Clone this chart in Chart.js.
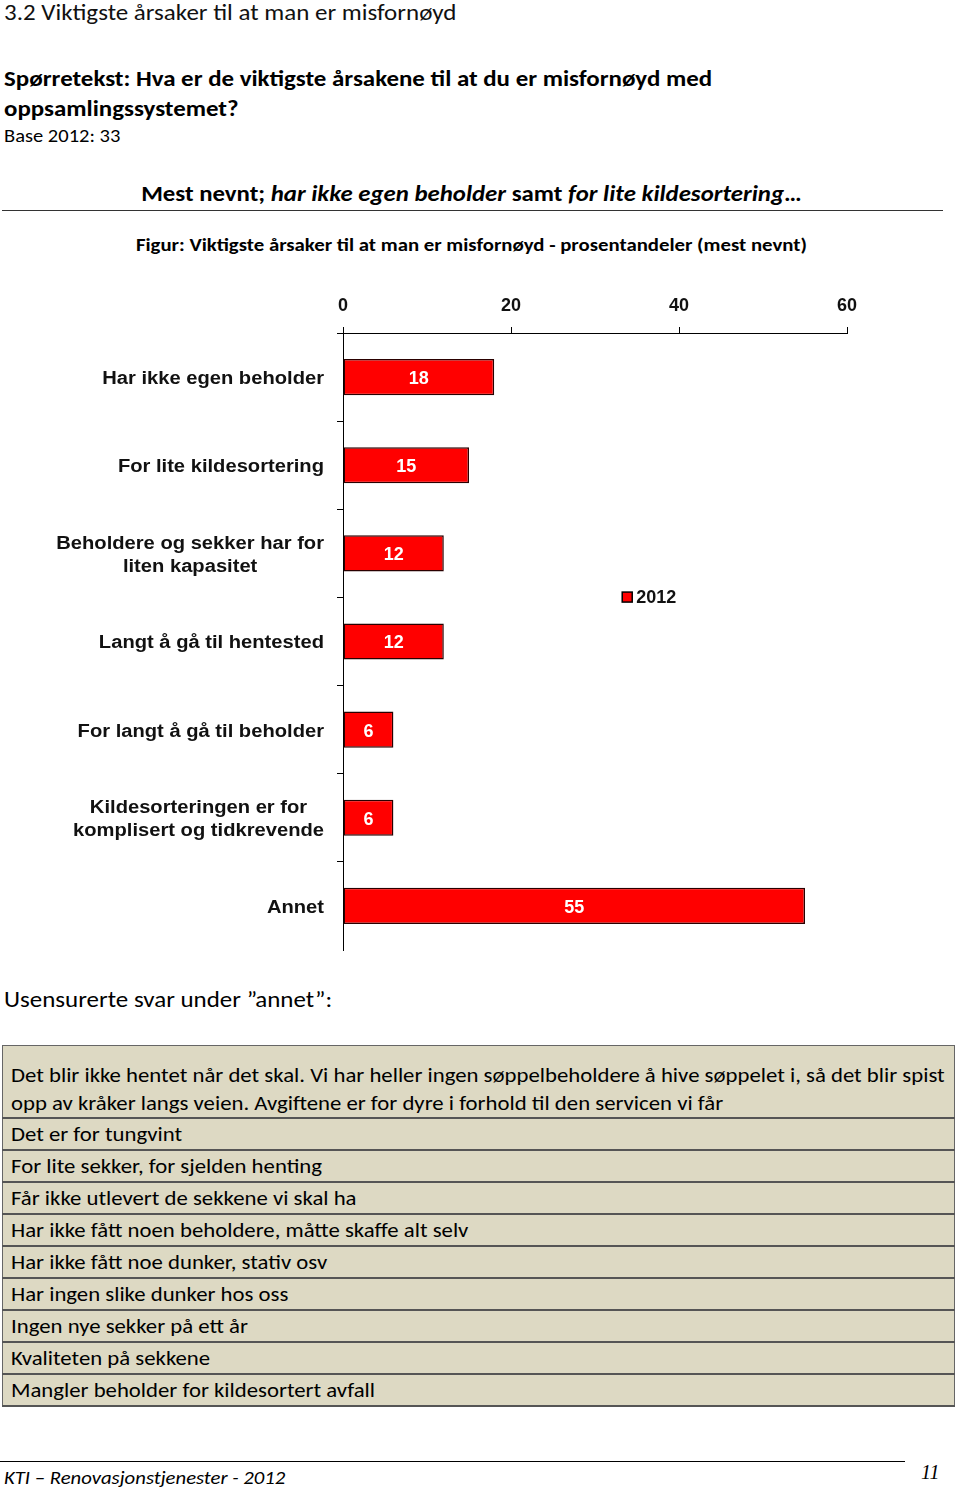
<!DOCTYPE html>
<html>
<head>
<meta charset="utf-8">
<script src="https://cdn.jsdelivr.net/npm/chart.js@4/dist/chart.umd.min.js"></script>
<style>
  body { margin: 0; background: #fff; font-family: Carlito, Lato, sans-serif; color: #000; }
  .page { position: relative; width: 960px; height: 1490px; overflow: hidden; }
  .abs { position: absolute; white-space: nowrap; transform-origin: left center; }
  #h1 { left: 4px; top: -1px; font-size: 22px; font-weight: 300; color: #111; transform: scaleX(1.136); }
  #q { left: 4px; top: 64px; font-size: 22px; font-weight: 700; line-height: 30px; transform: scaleX(1.133); }
  #base { left: 4px; top: 125px; font-size: 18px; transform: scaleX(1.14); }
  #sub { left: 0; width: 943px; top: 180px; text-align: center; font-size: 22px; font-weight: 700;
         transform: scaleX(1.128); transform-origin: 472px center; }
  #rule { left: 2px; top: 210px; width: 941px; height: 0; border-top: 1.5px solid #333; }
  #fig { left: 0; width: 943px; top: 234px; text-align: center; font-size: 18px; font-weight: 700;
         transform: scaleX(1.155); transform-origin: 472px center; }
  #chartBox { position: absolute; left: 0; top: 280px; width: 900px; height: 680px; }
  #usens { left: 4px; top: 986px; font-size: 22px; transform: scaleX(1.135); }
  table { position: absolute; left: 2px; top: 1045px; width: 953px; border-collapse: collapse;
          background: #ddd9c3; font-size: 20.5px; }
  td { border-left: 1.5px solid #666; border-right: 1.5px solid #666; border-bottom: 2px solid #555;
       padding: 0 0 0 8px; height: 30px; line-height: 28px; white-space: nowrap; }
  td span { display: inline-block; transform: scaleX(1.11); transform-origin: left center; }
  tr:first-child td { border-top: 1.5px solid #666; padding-top: 15px; height: 54px; vertical-align: bottom; }
  #footRule { left: 0; top: 1461px; width: 905px; border-top: 1.5px solid #000; }
  #foot { left: 4px; top: 1466px; font-size: 19px; font-style: italic; transform: scaleX(1.09); }
  #pnum { left: 921px; top: 1461px; font-size: 20px; font-style: italic; font-family: "Liberation Serif", serif; }
</style>
</head>
<body>
<div class="page">
  <div class="abs" id="h1">3.2 Viktigste årsaker til at man er misfornøyd</div>
  <div class="abs" id="q">Spørretekst: Hva er de viktigste årsakene til at du er misfornøyd med<br>oppsamlingssystemet?</div>
  <div class="abs" id="base">Base 2012: 33</div>
  <div class="abs" id="sub">Mest nevnt; <i>har ikke egen beholder</i> samt <i>for lite kildesortering</i>…</div>
  <div class="abs" id="rule"></div>
  <div class="abs" id="fig">Figur: Viktigste årsaker til at man er misfornøyd - prosentandeler (mest nevnt)</div>
  <div id="chartBox"><canvas id="chart"></canvas></div>
  <div class="abs" id="usens">Usensurerte svar under ”annet”:</div>
  <table>
    <tr><td><span>Det blir ikke hentet når det skal. Vi har heller ingen søppelbeholdere å hive søppelet i, så det blir spist<br>opp av kråker langs veien. Avgiftene er for dyre i forhold til den servicen vi får</span></td></tr>
    <tr><td><span>Det er for tungvint</span></td></tr>
    <tr><td><span>For lite sekker, for sjelden henting</span></td></tr>
    <tr><td><span>Får ikke utlevert de sekkene vi skal ha</span></td></tr>
    <tr><td><span>Har ikke fått noen beholdere, måtte skaffe alt selv</span></td></tr>
    <tr><td><span>Har ikke fått noe dunker, stativ osv</span></td></tr>
    <tr><td><span>Har ingen slike dunker hos oss</span></td></tr>
    <tr><td><span>Ingen nye sekker på ett år</span></td></tr>
    <tr><td><span>Kvaliteten på sekkene</span></td></tr>
    <tr><td><span>Mangler beholder for kildesortert avfall</span></td></tr>
  </table>
  <div class="abs" id="footRule"></div>
  <div class="abs" id="foot">KTI – Renovasjonstjenester - 2012</div>
  <div class="abs" id="pnum">11</div>
</div>
<script>
// -- THE DATA --

const reasons = [
  ["Har ikke egen beholder"],
  ["For lite kildesortering"],
  ["Beholdere og sekker har for", "liten kapasitet"],
  ["Langt å gå til hentested"],
  ["For langt å gå til beholder"],
  ["Kildesorteringen er for", "komplisert og tidkrevende"],
  ["Annet"]
];

const values2012 = [18, 15, 12, 12, 6, 6, 55];

const seriesName = "2012";

const axisMin = 0;
const axisMax = 60;
const axisStep = 20;

// -- PLUGINS --

// category labels: block right aligned, lines centred on each other
const reasonLabels = {
  id: 'reasonLabels',
  afterDraw(chart) {
    const ctx = chart.ctx;
    const y = chart.scales.y;
    const right = y.right - 19;
    ctx.save();
    ctx.font = 'bold 18px "Liberation Sans", Arial, sans-serif';
    ctx.fillStyle = '#111';
    ctx.textAlign = 'center';
    ctx.textBaseline = 'middle';
    chart.data.labels.forEach((lines, i) => {
      const cy = y.getPixelForValue(i) + 2;
      const sx = 1.12;
      const w = Math.max(...lines.map(l => ctx.measureText(l).width)) * sx;
      const cx = right - w / 2;
      lines.forEach((l, k) => {
        const ly = cy + (k - (lines.length - 1) / 2) * 23;
        ctx.save();
        ctx.translate(cx, ly);
        ctx.scale(sx, 1);
        ctx.fillText(l, 0, 0);
        ctx.restore();
      });
    });
    ctx.restore();
  }
};

// white value labels in the middle of each bar
const barValues = {
  id: 'barValues',
  afterDatasetsDraw(chart) {
    const ctx = chart.ctx;
    ctx.save();
    ctx.font = 'bold 18px "Liberation Sans", Arial, sans-serif';
    ctx.fillStyle = '#fff';
    ctx.textAlign = 'center';
    ctx.textBaseline = 'middle';
    chart.getDatasetMeta(0).data.forEach((bar, i) => {
      const p = bar.getProps(['x', 'y', 'base'], true);
      ctx.fillText(chart.data.datasets[0].data[i], (p.x + p.base) / 2, p.y + 2);
    });
    ctx.restore();
  }
};

// small legend floating inside the plot area
const floatLegend = {
  id: 'floatLegend',
  afterDraw(chart) {
    const ctx = chart.ctx;
    const a = chart.chartArea;
    const ds = chart.data.datasets[0];
    const x = a.left + 0.554 * (a.right - a.left);
    const y = a.top + 0.428 * (a.bottom - a.top);
    ctx.save();
    ctx.fillStyle = ds.backgroundColor;
    ctx.fillRect(x, y - 5, 10, 10);
    ctx.strokeStyle = '#000';
    ctx.lineWidth = 1.5;
    ctx.strokeRect(x, y - 5, 10, 10);
    ctx.font = 'bold 18px "Liberation Sans", Arial, sans-serif';
    ctx.fillStyle = '#111';
    ctx.textBaseline = 'middle';
    ctx.fillText(ds.label, x + 14, y + 1);
    ctx.restore();
  }
};

// -- THE CHART --

const chartData = {
  labels: reasons,
  datasets: [{
    label: seriesName,
    data: values2012,
    backgroundColor: '#ff0000',
    borderColor: '#2a0000',
    borderWidth: 1.5,
    borderSkipped: false,
    barPercentage: 0.82,
    categoryPercentage: 0.5
  }]
};

new Chart('chart', {
  type: 'bar',
  data: chartData,
  options: {
    indexAxis: 'y',
    responsive: true,
    maintainAspectRatio: false,
    animation: false,
    layout: { padding: { top: 5, right: 53, bottom: 10, left: 0 } },
    plugins: { legend: { display: false }, tooltip: { enabled: false } },
    scales: {
      x: {
        position: 'top',
        min: axisMin,
        max: axisMax,
        ticks: {
          stepSize: axisStep,
          padding: 10,
          color: '#111',
          font: { family: '"Liberation Sans", Arial, sans-serif', size: 18, weight: 'bold' }
        },
        grid: { drawOnChartArea: false, tickLength: 6, color: '#000', lineWidth: 1 },
        border: { color: '#000', width: 1 },
        afterFit(s) { s.height = 48; }
      },
      y: {
        ticks: { display: false },
        grid: {
          offset: true, drawOnChartArea: false, tickLength: 6, lineWidth: 1,
          color: c => (c.tick ? '#000' : 'rgba(0,0,0,0)')
        },
        border: { color: '#000', width: 1 },
        afterFit(s) { s.width = 343; }
      }
    }
  },
  plugins: [reasonLabels, barValues, floatLegend]
});
</script>
</body>
</html>
